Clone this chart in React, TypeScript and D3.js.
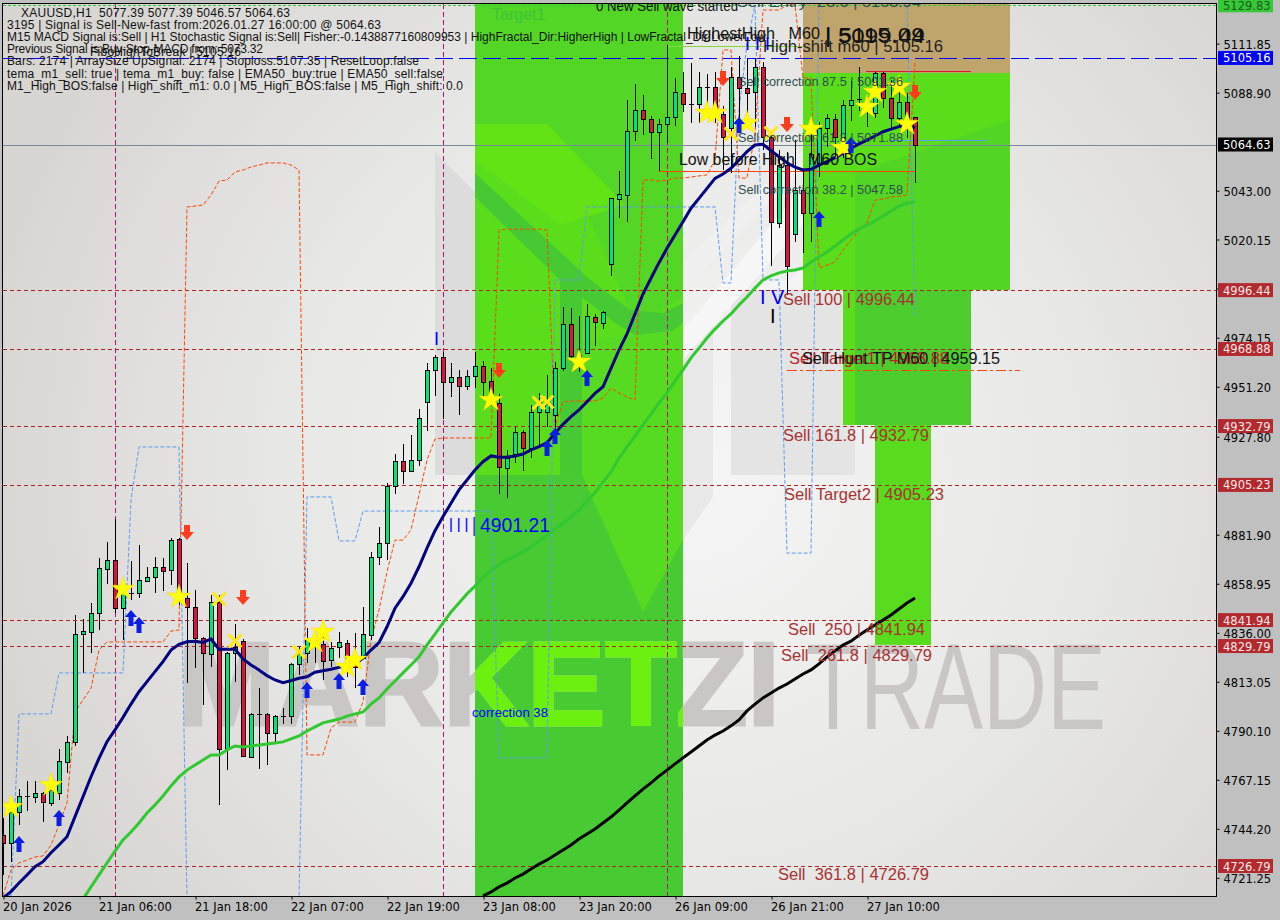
import React, { useEffect, useRef } from 'react';
import * as d3 from 'd3';

const opens = [4741.3,4737.4,4752.2,4759.6,4759.2,4760.8,4756.4,4760.8,4775.6,4784.7,4835.3,4836.5,4845.1,4866,4870,4847.5,4854.8,4854.5,4860.4,4862,4866.7,4865.2,4879.8,4852.1,4847.9,4833.4,4825.9,4850.3,4781.4,4826.7,4832,4778,4797.8,4797.8,4789.2,4797.2,4797.2,4821.2,4826.4,4830.3,4830.8,4823.2,4829.2,4831,4824.1,4824.1,4835,4871.6,4877.9,4904.7,4916.3,4911.8,4916.8,4944.2,4958.9,4965,4953.6,4955.6,4951.7,4956.1,4960.8,4953.9,4943.4,4913,4919.6,4929.9,4922.7,4939.4,4939.2,4938,4960.1,4980.4,4963.7,4966.9,4984,4980.9,5008.5,5039.3,5041.1,5070.8,5080.6,5076.4,5070.3,5074.1,5077.4,5088.6,5083.6,5083.6,5091.4,5091.4,5078.8,5072.4,5096.1,5091,5089.4,5100.8,5068.3,5028,5055,5022.6,5043.3,5032.4,5056,5072.2,5076.4,5067.5,5083,5085.8,5080.8,5079.2,5098.3,5086.3,5076.9,5084.7,5077.39];
const highs = [4749.3,4756.3,4762.7,4766.7,4766.7,4761.6,4768.5,4781.7,4787.7,4844.3,4842.3,4849.8,4870.9,4878.5,4889.1,4859.3,4869.6,4877.1,4866.9,4871.6,4870.9,4880.2,4880.4,4868.5,4856,4834.2,4853.7,4853.7,4827.1,4840.1,4832.9,4798.6,4810.3,4798.3,4797.5,4800.6,4821.7,4829.8,4838.4,4834.9,4836.4,4831.8,4836.5,4832.6,4835.7,4848.2,4874,4885.4,4906.3,4919.6,4924.3,4928.6,4940.8,4962.2,4966.1,4967.6,4962.2,4959,4959,4967.6,4963.4,4960.1,4947.8,4921.6,4932.5,4931,4942.7,4948.3,4956.7,4962.9,4988.7,4987.9,4984.5,4989.8,4985.1,4986.7,5039.7,5052.2,5085.5,5093,5087.8,5078,5076.6,5110.8,5095.6,5098.7,5102.9,5098.7,5097.6,5098.6,5082.7,5101.1,5106.1,5104.5,5104.5,5103.4,5069.1,5062,5061.3,5066.7,5052.7,5070.5,5075.2,5078.8,5078.9,5085.5,5094.4,5100.8,5087.3,5098.6,5098.6,5094.8,5093.4,5088.6,5077.39];
const lows = [4722.6,4728.7,4746,4752.7,4756.1,4747.5,4755,4757.7,4770.2,4783,4817,4826.4,4837.3,4858.8,4845.4,4832.6,4851.4,4852.3,4859.9,4854.8,4855.6,4858.4,4849,4812.6,4819.4,4802.2,4819.8,4755.3,4771.7,4813,4777.7,4777.5,4772.2,4774.1,4785,4793.3,4793.3,4816.2,4821.7,4821.9,4813.9,4820.1,4824.1,4815.4,4810.1,4823.5,4832.6,4867.7,4870.1,4901,4905.7,4911.4,4914.2,4930.6,4947,4936,4946.5,4938,4949.7,4950.5,4946.5,4942.2,4901,4899.3,4915.6,4911.9,4917.7,4923.9,4932.5,4929.4,4958.7,4962.9,4958.2,4966.5,4970.3,4978.1,5003.2,5030.2,5028.5,5066.4,5069.1,5058,5052.2,5065.3,5073.3,5080,5074.8,5074.8,5080.5,5074.7,5052.7,5051.3,5070,5072.4,5072.8,5062,5007.9,5025.4,4994.2,5019.1,5013.7,5019,5049.4,5063.6,5058.9,5058.3,5075.6,5080.5,5073,5076.9,5081.6,5071.4,5072.2,5067.7,5046.57];
const closes = [4737.4,4752.2,4759.6,4759.6,4760.8,4756.9,4762.4,4775.8,4784.7,4835.3,4836.8,4845.3,4866.2,4870,4847.5,4855.2,4854.8,4860.7,4862,4866.7,4865.1,4879.3,4853.7,4847.9,4833.4,4826.4,4850.3,4781.4,4826.7,4829.5,4778.3,4797.8,4797.8,4789.2,4796.9,4797.2,4821.4,4825.9,4832.6,4832.6,4823,4828.7,4831.5,4824.2,4820.1,4835.3,4871.6,4877.9,4904.7,4916.3,4911.6,4916.8,4936.4,4958.9,4965,4953.6,4955.6,4951.7,4956.1,4960.8,4953.6,4948.1,4913.8,4917.7,4929.9,4922.7,4939.2,4944.1,4943.1,4960.1,4980.4,4965.7,4966,4984.5,4981.4,4986.1,5039.4,5041.3,5070.8,5080.6,5076.4,5070.3,5074.1,5077.4,5089.1,5083.5,5083.6,5091.4,5091.4,5079.9,5068.3,5096.1,5091,5088.9,5100.8,5068.3,5028.2,5055,5007.9,5043.3,5032.4,5060.2,5072.2,5076.9,5068,5083.1,5085.5,5085.8,5084.1,5098.3,5086.3,5076.9,5084.7,5076.1,5064.63];

const temaLine = [4711.8,4714.8,4718.8,4722.6,4726.5,4728.8,4733,4736.6,4740.5,4749.9,4759.2,4768.6,4777.2,4785,4790.5,4796.4,4802.6,4808.4,4813.1,4817.8,4822.5,4827.9,4830.6,4831.8,4832,4831.5,4833.1,4828.3,4828.3,4828.4,4823.7,4820.9,4818.6,4815.9,4813.9,4812.6,4813.6,4814.7,4815.4,4817.5,4818.2,4818.9,4819.8,4820.6,4821.2,4824.1,4827.9,4831.4,4838.8,4847.5,4852.9,4859.2,4866.9,4875.6,4883.8,4890.4,4896.6,4902.9,4907.5,4912.2,4916.1,4918.8,4918.2,4918.2,4918.8,4919.7,4921.6,4923.1,4925,4929.4,4933.6,4937.2,4940.3,4944.2,4948.1,4951.2,4959.8,4968.4,4975.9,4985.3,4994.6,5002,5009.3,5016,5022.3,5028.5,5034.8,5039.4,5044.1,5048.8,5050.8,5053.5,5057.4,5061.3,5064.4,5064.7,5061.7,5058.9,5056.1,5054,5052.7,5053,5055,5056.6,5058.5,5060.5,5062.9,5064.9,5066.7,5068.6,5070.6,5071.8,5073,5073.8,5072.4];
const emaStart = 10;
const emaLine = [4711.3,4717,4722.6,4728.2,4733.8,4739,4742.7,4746.9,4751.6,4755.4,4759.6,4764.3,4768.5,4771.7,4774.1,4776.4,4778.8,4778.8,4781.1,4783,4782.5,4783,4783.5,4783.9,4784.4,4784.9,4786.3,4787.7,4790,4791.9,4793.8,4794.7,4795.6,4797,4798,4798.9,4802.6,4805.5,4809.7,4813.4,4817.2,4820.9,4824.7,4830.3,4835.4,4840.6,4845.7,4849.9,4854.2,4857.9,4862.1,4865.4,4867.7,4870.1,4871.9,4873.8,4876.2,4879,4881.8,4884.6,4887.4,4890.2,4893.5,4897.7,4901.5,4906.6,4911.3,4917.8,4923,4928.1,4933.3,4938.4,4943.6,4948.3,4953.9,4959.1,4964.7,4969.3,4974,4978.2,4982,4985.3,4989.5,4993.2,4997.4,5001.2,5003.1,5004.5,5005.4,5005.9,5006.8,5009.6,5012,5014.3,5017.1,5019.9,5022.7,5025.1,5026.9,5028.8,5031.2,5033.5,5035.8,5037.2,5037.7];
const blackStart = 60;
const blackLine = [4712.8,4714.6,4717,4718.8,4721.2,4723,4725.4,4727.7,4729.6,4731.9,4734.3,4736.6,4739.4,4741.8,4744.1,4746.9,4749.7,4753,4756.3,4759.6,4762.8,4765.7,4768.9,4771.7,4774.6,4777.4,4780.2,4783,4785.8,4788.1,4790,4792.4,4795.2,4799.4,4802.6,4805.5,4807.8,4810.1,4812,4814.4,4816.7,4818.6,4821.4,4824.7,4827.5,4830.3,4832.1,4834.9,4837.3,4839.6,4842,4844.3,4847.1,4849.9,4852.3];
const orangeBand = [4712.8,4724.9,4728.2,4729.6,4731,4731.5,4736.6,4746,4756.3,4798.9,4804.5,4810.1,4827.9,4831.7,4831.7,4831.7,4831.7,4831.7,4831.7,4831.7,4831.7,4836.8,4837.3,5035.4,5035.8,5036.3,5041,5047.5,5048,5051.8,5052.7,5054.1,5055,5056,5056,5056,5055,5052.7,4778.8,4778.8,4778.8,4791.4,4794.2,4794.2,4794.2,4803.6,4832.6,4846.7,4864.5,4879.4,4879.4,4884.1,4900.5,4916.9,4926.7,4927.2,4927.2,4927.2,4927.2,4927.2,4927.2,4927.2,5024.6,5025,5025,5025,5025,5025,5024.6,4932.4,4944.1,4944.5,4944.5,4944.5,4944.5,4945.9,4950.6,4948.3,4946.4,4945,5048,5048,5047.5,5048,5048.9,5048.9,5049.4,5049.9,5050.4,5057.4,5108.9,5108.9,5048.9,5048.9,5069.1,5127.6,5127.6,5127.6,5130,5130,5095.8,5095.8,5006.8,5008.2,5009.6,5015.2,5019.9,5024.6,5027.9,5038.6,5039.1,5040,5040.5,5041,5102.8];
const blueBand = [4712.8,4712.8,4798,4798,4798,4798,4798,4817.2,4817.2,4817.2,4817.2,4817.2,4817.2,4817.2,4817.2,4817.2,4898.2,4923,4923,4923,4923,4923,4923,4710.9,4710.9,4710.9,4710.9,4710.9,4710.9,4710.9,4710.9,4710.9,4710.9,4710.9,4710.9,4710.9,4710.9,4710.9,4899.6,4899.6,4899.6,4899.6,4879,4879,4879,4893,4893,4893,4893,4893,4893,4893,4893,4893,4893,4893,4893,4893,4893,4893,4893,4893,4777.4,4777.4,4777.4,4777.4,4777.4,4777.4,4777.4,5001.2,5001.2,5001.2,5001.2,5035.4,5035.4,5035.4,5035.4,5035.4,5035.4,5035.4,5035.4,5035.4,5035.4,5035.4,5035.4,5035.4,5035.4,5035.4,5035.4,5035.4,4999.8,4999.8,5080.8,5111.6,5130,5001.2,5001.2,5001.2,4873.3,4873.3,4873.3,4873.3,5130.9,5130.9,5130.9,5130.9,5130.9,5130.9,5130.9,5130.9,5130.9,5130.9,5130.9,5130.9,4984.8];

const starBars = [1,6,15,22,39,40,43,44,61,72,88,89,93,101,105,108,109,112,113];
const starPrices = [4754.4,4764.7,4856.5,4852.8,4831.7,4836.4,4820,4823.3,4945,4962.8,5079.4,5079.4,5074.7,5071.9,5063,5082.2,5089.2,5091.6,5074.2];
const crossBars = [27,29,37,67,68,91,96];
const crossPrices = [4851.8,4832.2,4827,4943.6,4944.1,5069.6,5070];
const upBars = [2,7,16,17,38,42,45,73,68,69,102,92,106];
const upPrices = [4737.1,4749.3,4842.9,4839.6,4809.2,4813.4,4810.6,4955.3,4922.5,4928.1,5029.7,5073.8,5064.4];
const downBars = [23,30,62,90,98,114];
const downPrices = [4883.2,4852.8,4959,5095.8,5074.2,5089.2];

const separatorBars = [14,55,83];
const sellLevels = [4996.44,4968.88,4932.79,4905.23,4841.94,4829.79,4726.79];
const priceTicks = [5111.85,5088.9,5043,5020.15,4997.2,4974.15,4951.2,4927.8,4881.9,4858.95,4836,4813.05,4790.1,4767.15,4744.2,4721.25];
const timeTickBars = [0,12,24,36,48,60,72,84,96,108];
const timeTickLabels = ['20 Jan 2026','21 Jan 06:00','21 Jan 18:00','22 Jan 07:00','22 Jan 19:00','23 Jan 08:00','23 Jan 20:00','26 Jan 09:00','26 Jan 21:00','27 Jan 10:00'];

const infoLines = [
  'XAUUSD,H1  5077.39 5077.39 5046.57 5064.63',
  '3195 | Signal is Sell-New-fast from:2026.01.27 16:00:00 @ 5064.63',
  'M15 MACD Signal is:Sell | H1 Stochastic Signal is:Sell| Fisher:-0.1438877160809953 | HighFractal_Dir:HigherHigh | LowFractal_Dir:LowerLow',
  'Previous Signal is:Buy-Stop-MACD from: 5073.32',
  'Bars: 2174 | ArraySize UpSignal: 2174 | Stoploss:5107.35 | ResetLoop:false',
  'tema_m1_sell: true | tema_m1_buy: false | EMA50_buy:true | EMA50_sell:false',
  'M1_High_BOS:false | High_shift_m1: 0.0 | M5_High_BOS:false | M5_High_shift: 0.0',
];

const App: React.FC = () => {
  const svgRef = useRef<SVGSVGElement>(null);

  useEffect(() => {
    if (!svgRef.current) return;
    const svg = d3.select(svgRef.current);
    svg.selectAll('*').remove();

    const x = d3.scaleLinear().domain([0, 114]).range([3, 915]);
    const y = d3.scaleLinear().domain([4726.79, 5064.63]).range([866, 144.5]);

    const defs = svg.append('defs');
    const bg = defs.append('radialGradient').attr('id', 'bg').attr('gradientUnits', 'userSpaceOnUse')
      .attr('cx', 690).attr('cy', 470).attr('r', 720);
    bg.append('stop').attr('offset', '0%').attr('stop-color', '#f6f6f6');
    bg.append('stop').attr('offset', '60%').attr('stop-color', '#e6e6e5');
    bg.append('stop').attr('offset', '100%').attr('stop-color', '#d8d6d3');
    defs.append('clipPath').attr('id', 'plot').append('rect')
      .attr('x', 3).attr('y', 4).attr('width', 1213).attr('height', 892);
    const limeClip = defs.append('clipPath').attr('id', 'lime');
    limeClip.append('rect').attr('x', 475).attr('y', 0).attr('width', 208).attr('height', 896);
    limeClip.append('rect').attr('x', 875).attr('y', 600).attr('width', 56).attr('height', 45);

    svg.append('rect').attr('width', 1280).attr('height', 920).attr('fill', '#c0c0c0');
    const plot = svg.append('g').attr('clip-path', 'url(#plot)');
    plot.append('rect').attr('x', 3).attr('y', 4).attr('width', 1213).attr('height', 892).attr('fill', 'url(#bg)');

    const poly = (pts: string, fill: string) => plot.append('polygon').attr('points', pts).attr('fill', fill);
    const box = (x0: number, y0: number, x1: number, y1: number, fill: string) =>
      plot.append('rect').attr('x', x0).attr('y', y0).attr('width', x1 - x0).attr('height', y1 - y0).attr('fill', fill);

    // logo behind the zones
    poly('435,152 475,192 475,475 435,475', '#dcdcdc');
    poly('683,345 713,295 713,497 683,540', '#e8e8e8');
    box(731, 290, 855, 475, '#e4e4e4');
    poly('683,360 683,330 800,190 803,190 803,225', '#f7f7f7');
    poly('683,290 683,262 803,150 803,170', '#f0f0f0');
    poly('758,280 790,280 803,265 803,290 758,290', '#f4f4f4');

    // trade zones
    box(475, 0, 683, 896, '#5ade1c');
    box(803, 0, 1010, 73, '#bfa56c');
    box(803, 73, 1010, 290, '#5ade1c');
    box(843, 290, 971, 425, '#5ade1c');
    box(875, 425, 931, 645, '#58dc1d');

    // logo over the zones
    poly('475,4 683,4 683,297 660,312 630,310 547,124 475,124', '#53d625');
    poly('475,124 547,124 625,205 560,225 475,160', '#62e316');
    poly('475,173 587,277 630,310 663,313 683,303 683,323 663,338 643,340 615,323 560,280 475,197', '#47c934');
    box(560, 280, 582, 475, '#47c934');
    poly('582,340 683,330 683,540 643,612 582,475', '#56da22');
    poly('475,475 582,475 643,612 683,540 683,896 475,896', '#48ca33');
    poly('855,173 1010,120 1010,290 855,290', '#52d525');
    box(855, 290, 971, 425, '#4ccd2d');

    // watermark
    const mark = (fill: string, clip?: string) => {
      const g = plot.append('g');
      if (clip) g.attr('clip-path', clip);
      g.append('text').text('MARKETZI').attr('x', 178).attr('y', 725)
        .attr('textLength', 602).attr('lengthAdjust', 'spacingAndGlyphs')
        .attr('stroke', fill).attr('stroke-width', 3)
        .style('font', 'bold 119px "Liberation Sans"').attr('fill', fill);
      g.append('text').text('TRADE').attr('x', 806).attr('y', 729)
        .attr('textLength', 300).attr('lengthAdjust', 'spacingAndGlyphs')
        .style('font', '123px "Liberation Sans"').attr('fill', fill);
    };
    mark('#c8c7c5');
    mark('#6cf00f', 'url(#lime)');

    // grid of day separators and levels
    separatorBars.forEach(b => {
      plot.append('line').attr('x1', x(b) + 0.5).attr('x2', x(b) + 0.5).attr('y1', 4).attr('y2', 896)
        .attr('stroke', '#b3106e').attr('stroke-dasharray', '5,3');
    });
    sellLevels.forEach(v => {
      plot.append('line').attr('x1', 3).attr('x2', 1216).attr('y1', Math.round(y(v)) + 0.5).attr('y2', Math.round(y(v)) + 0.5)
        .attr('stroke', '#b22222').attr('stroke-dasharray', '4,3');
    });
    const hline = (v: number, x0: number, x1: number, color: string, dash?: string) => {
      const l = plot.append('line').attr('x1', x0).attr('x2', x1)
        .attr('y1', Math.round(y(v)) + 0.5).attr('y2', Math.round(y(v)) + 0.5).attr('stroke', color);
      if (dash) l.attr('stroke-dasharray', dash);
    };
    hline(5129.83, 3, 1216, '#32cd32', '3,2');
    hline(5105.16, 3, 1216, '#0000ff', '18,6');
    hline(5064.63, 3, 1216, '#778899');
    hline(5110.9, 667, 803, '#7fdc3c');
    hline(5099.2, 866, 971, '#dc143c');
    hline(5052.1, 659, 915, '#ff4500');
    hline(5066.6, 890, 987, '#5b9cf0');
    hline(4959.15, 787, 1020, '#ff4500', '10,3,3,3');

    // dashed bands
    const bandPath = d3.line<number>().x((_, i) => x(i)).y(d => y(d));
    plot.append('path').attr('d', bandPath(blueBand)).attr('fill', 'none').attr('stroke', '#5b9cf0').attr('stroke-dasharray', '4,2');
    plot.append('path').attr('d', bandPath(orangeBand)).attr('fill', 'none').attr('stroke', '#ff4500').attr('stroke-dasharray', '4,2');

    // candles
    const candles = plot.append('g').attr('shape-rendering', 'crispEdges');
    opens.forEach((o, i) => {
      const c = closes[i];
      const cx = Math.round(x(i));
      candles.append('line').attr('x1', cx + 0.5).attr('x2', cx + 0.5)
        .attr('y1', y(highs[i])).attr('y2', y(lows[i])).attr('stroke', '#000');
      if (o === c) {
        candles.append('line').attr('x1', cx - 2).attr('x2', cx + 3).attr('y1', Math.round(y(o)) + 0.5).attr('y2', Math.round(y(o)) + 0.5).attr('stroke', '#000');
      } else {
        const top = Math.round(y(Math.max(o, c)));
        const bottom = Math.round(y(Math.min(o, c)));
        candles.append('rect').attr('x', cx - 1.5).attr('y', top + 0.5).attr('width', 4).attr('height', Math.max(1, bottom - top))
          .attr('fill', c >= o ? '#00e676' : '#dc143c').attr('stroke', '#000');
      }
    });

    // moving averages
    const withOffset = (start: number) => d3.line<number>().x((_, i) => x(i + start)).y(d => y(d));
    plot.append('path').attr('d', withOffset(emaStart)(emaLine)).attr('fill', 'none').attr('stroke', '#32c832').attr('stroke-width', 3);
    plot.append('path').attr('d', withOffset(0)(temaLine)).attr('fill', 'none').attr('stroke', '#00007f').attr('stroke-width', 3);
    plot.append('path').attr('d', withOffset(blackStart)(blackLine)).attr('fill', 'none').attr('stroke', '#000').attr('stroke-width', 3);

    // signals
    const star = d3.symbol().type(d3.symbolStar).size(175)();
    starBars.forEach((b, i) => {
      plot.append('path').attr('d', star).attr('fill', '#ffff00').attr('stroke', '#f2d21a').attr('stroke-width', 0.5)
        .attr('transform', `translate(${x(b)},${y(starPrices[i])})`);
    });
    const cross = d3.symbol().type(d3.symbolTimes).size(110)();
    crossBars.forEach((b, i) => {
      plot.append('path').attr('d', cross).attr('fill', 'none').attr('stroke', '#ffe81a').attr('stroke-width', 3)
        .attr('transform', `translate(${x(b)},${y(crossPrices[i])})`);
    });
    upBars.forEach((b, i) => {
      plot.append('path').attr('d', 'M0,-8 L6,-1 L2.5,-1 L2.5,8 L-2.5,8 L-2.5,-1 L-6,-1 Z').attr('fill', '#0a1ee6')
        .attr('transform', `translate(${x(b)},${y(upPrices[i])})`);
    });
    downBars.forEach((b, i) => {
      plot.append('path').attr('d', 'M0,8 L7,0 L3,0 L3,-7 L-3,-7 L-3,0 L-7,0 Z').attr('fill', '#ff3c1e')
        .attr('transform', `translate(${x(b)},${y(downPrices[i])})`);
    });

    // chart labels
    const label = (s: string, lx: number, ly: number, size: number, color: string, width?: number) => {
      const t = plot.append('text').text(s).attr('x', lx).attr('y', ly + size * 0.35)
        .attr('fill', color).style('font', `${size}px "Liberation Sans"`).style('white-space', 'pre');
      if (width) t.attr('textLength', width).attr('lengthAdjust', 'spacingAndGlyphs');
    };
    const sellRed = '#a83232';
    const slate = '#2f4f4f';
    label('Target1', 492, 14, 16, '#3ec43a');
    label('0 New Sell wave started', 596, 6, 14, '#111', 142);
    label('Sell Entry -23.6 | 5153.94', 737, 2, 15, slate, 184);
    label('HighestHigh   M60', 687, 33, 16.5, '#111', 133);
    label('| 5115.09', 825, 35, 20, '#111', 100);
    label('| 5099.44', 825, 36, 20, '#111', 100);
    label('High-shift m60 | 5105.16', 763, 46, 16.5, '#222', 180);
    label('Sell correction 87.5 | 5091.36', 738, 81, 13, slate, 165);
    label('Sell correction 61.8 | 5071.88', 738, 137, 13, slate, 165);
    label('Sell correction 38.2 | 5047.58', 738, 189, 13, slate, 165);
    label('Low before High   M60 BOS', 679, 159, 16.5, '#111', 198);
    label('I I I', 745, 44, 18, '#0000ff');
    label('I', 434, 339, 18, '#0000ff');
    label('I I I |', 449, 525, 20, '#0000ff', 27);
    label('4901.21', 480, 525, 20, '#0000ff', 70);
    label('I V', 760, 297, 20, '#0000ff');
    label('I', 770, 316, 20, '#000');
    label('Sell 100 | 4996.44', 783, 299, 16, sellRed, 132);
    label('Sell Target1 | 4968.88', 789, 358, 16, '#c0202a', 160);
    label('Sell Hunt TP M60 | 4959.15', 802, 358, 16.5, '#111', 198);
    label('Sell 161.8 | 4932.79', 783, 435, 16, sellRed, 146);
    label('Sell Target2 | 4905.23', 784, 494, 16, sellRed, 160);
    label('Sell  250 | 4841.94', 788, 629, 16, sellRed, 137);
    label('Sell  261.8 | 4829.79', 781, 655, 16, sellRed, 151);
    label('Sell  361.8 | 4726.79', 778, 874, 16, sellRed, 151);
    label('correction 38', 472, 713, 12, '#0000ff', 76);

    // info text
    const infoX = [21, 7, 7, 7, 7, 7, 7];
    const infoW = [269, 374, 759, 256, 412, 436, 456];
    infoLines.forEach((s, i) => {
      plot.append('text').text(s).attr('x', infoX[i]).attr('y', 12.5 + i * 12.2 + 4)
        .attr('textLength', infoW[i]).attr('lengthAdjust', 'spacing')
        .attr('fill', '#111').style('font', '12px "Liberation Sans"').style('white-space', 'pre');
    });
    plot.append('text').text('FiboHighToBreak | 5105.16').attr('x', 90).attr('y', 56)
      .attr('textLength', 151).attr('fill', '#111').style('font', '12px "Liberation Sans"');

    // axes
    const rightAxis = svg.append('g').attr('transform', 'translate(1216.5,0)')
      .call(d3.axisRight(y).tickValues(priceTicks).tickSize(3).tickPadding(4).tickFormat(d3.format('.2f')));
    rightAxis.select('.domain').remove();
    rightAxis.selectAll('text').attr('fill', '#000').attr('dy', '0.42em').style('font', '11.5px "DejaVu Sans"');

    const bottomAxis = svg.append('g').attr('transform', 'translate(0.5,896.5)')
      .call(d3.axisBottom(x).tickValues(timeTickBars).tickSize(3).tickPadding(3)
        .tickFormat((_, i) => timeTickLabels[i]));
    bottomAxis.select('.domain').remove();
    bottomAxis.selectAll('text').attr('fill', '#000').attr('text-anchor', 'start').attr('dx', '-1').style('font', '11.5px "DejaVu Sans"');

    svg.append('rect').attr('x', 2.5).attr('y', 3.5).attr('width', 1214).attr('height', 893)
      .attr('fill', 'none').attr('stroke', '#000');

    // price badges
    const badges: [number, string, string][] = [
      [5129.83, '#36c936', '#1a5a1a'],
      [5105.16, '#0000ff', '#fff'],
      [5064.63, '#000', '#fff'],
      ...sellLevels.map(v => [v, '#b22a2e', '#f4e8e8'] as [number, string, string]),
    ];
    badges.forEach(([v, fill, ink]) => {
      const by = y(v);
      svg.append('rect').attr('x', 1218).attr('y', by - 7).attr('width', 55).attr('height', 14).attr('fill', fill);
      svg.append('text').text(d3.format('.2f')(v)).attr('x', 1223).attr('y', by + 4.5)
        .attr('fill', ink).style('font', '11.5px "DejaVu Sans"');
    });
  }, []);

  return <svg ref={svgRef} width={1280} height={920} style={{ position: 'absolute', left: 0, top: 0 }} />;
};

export default App;
